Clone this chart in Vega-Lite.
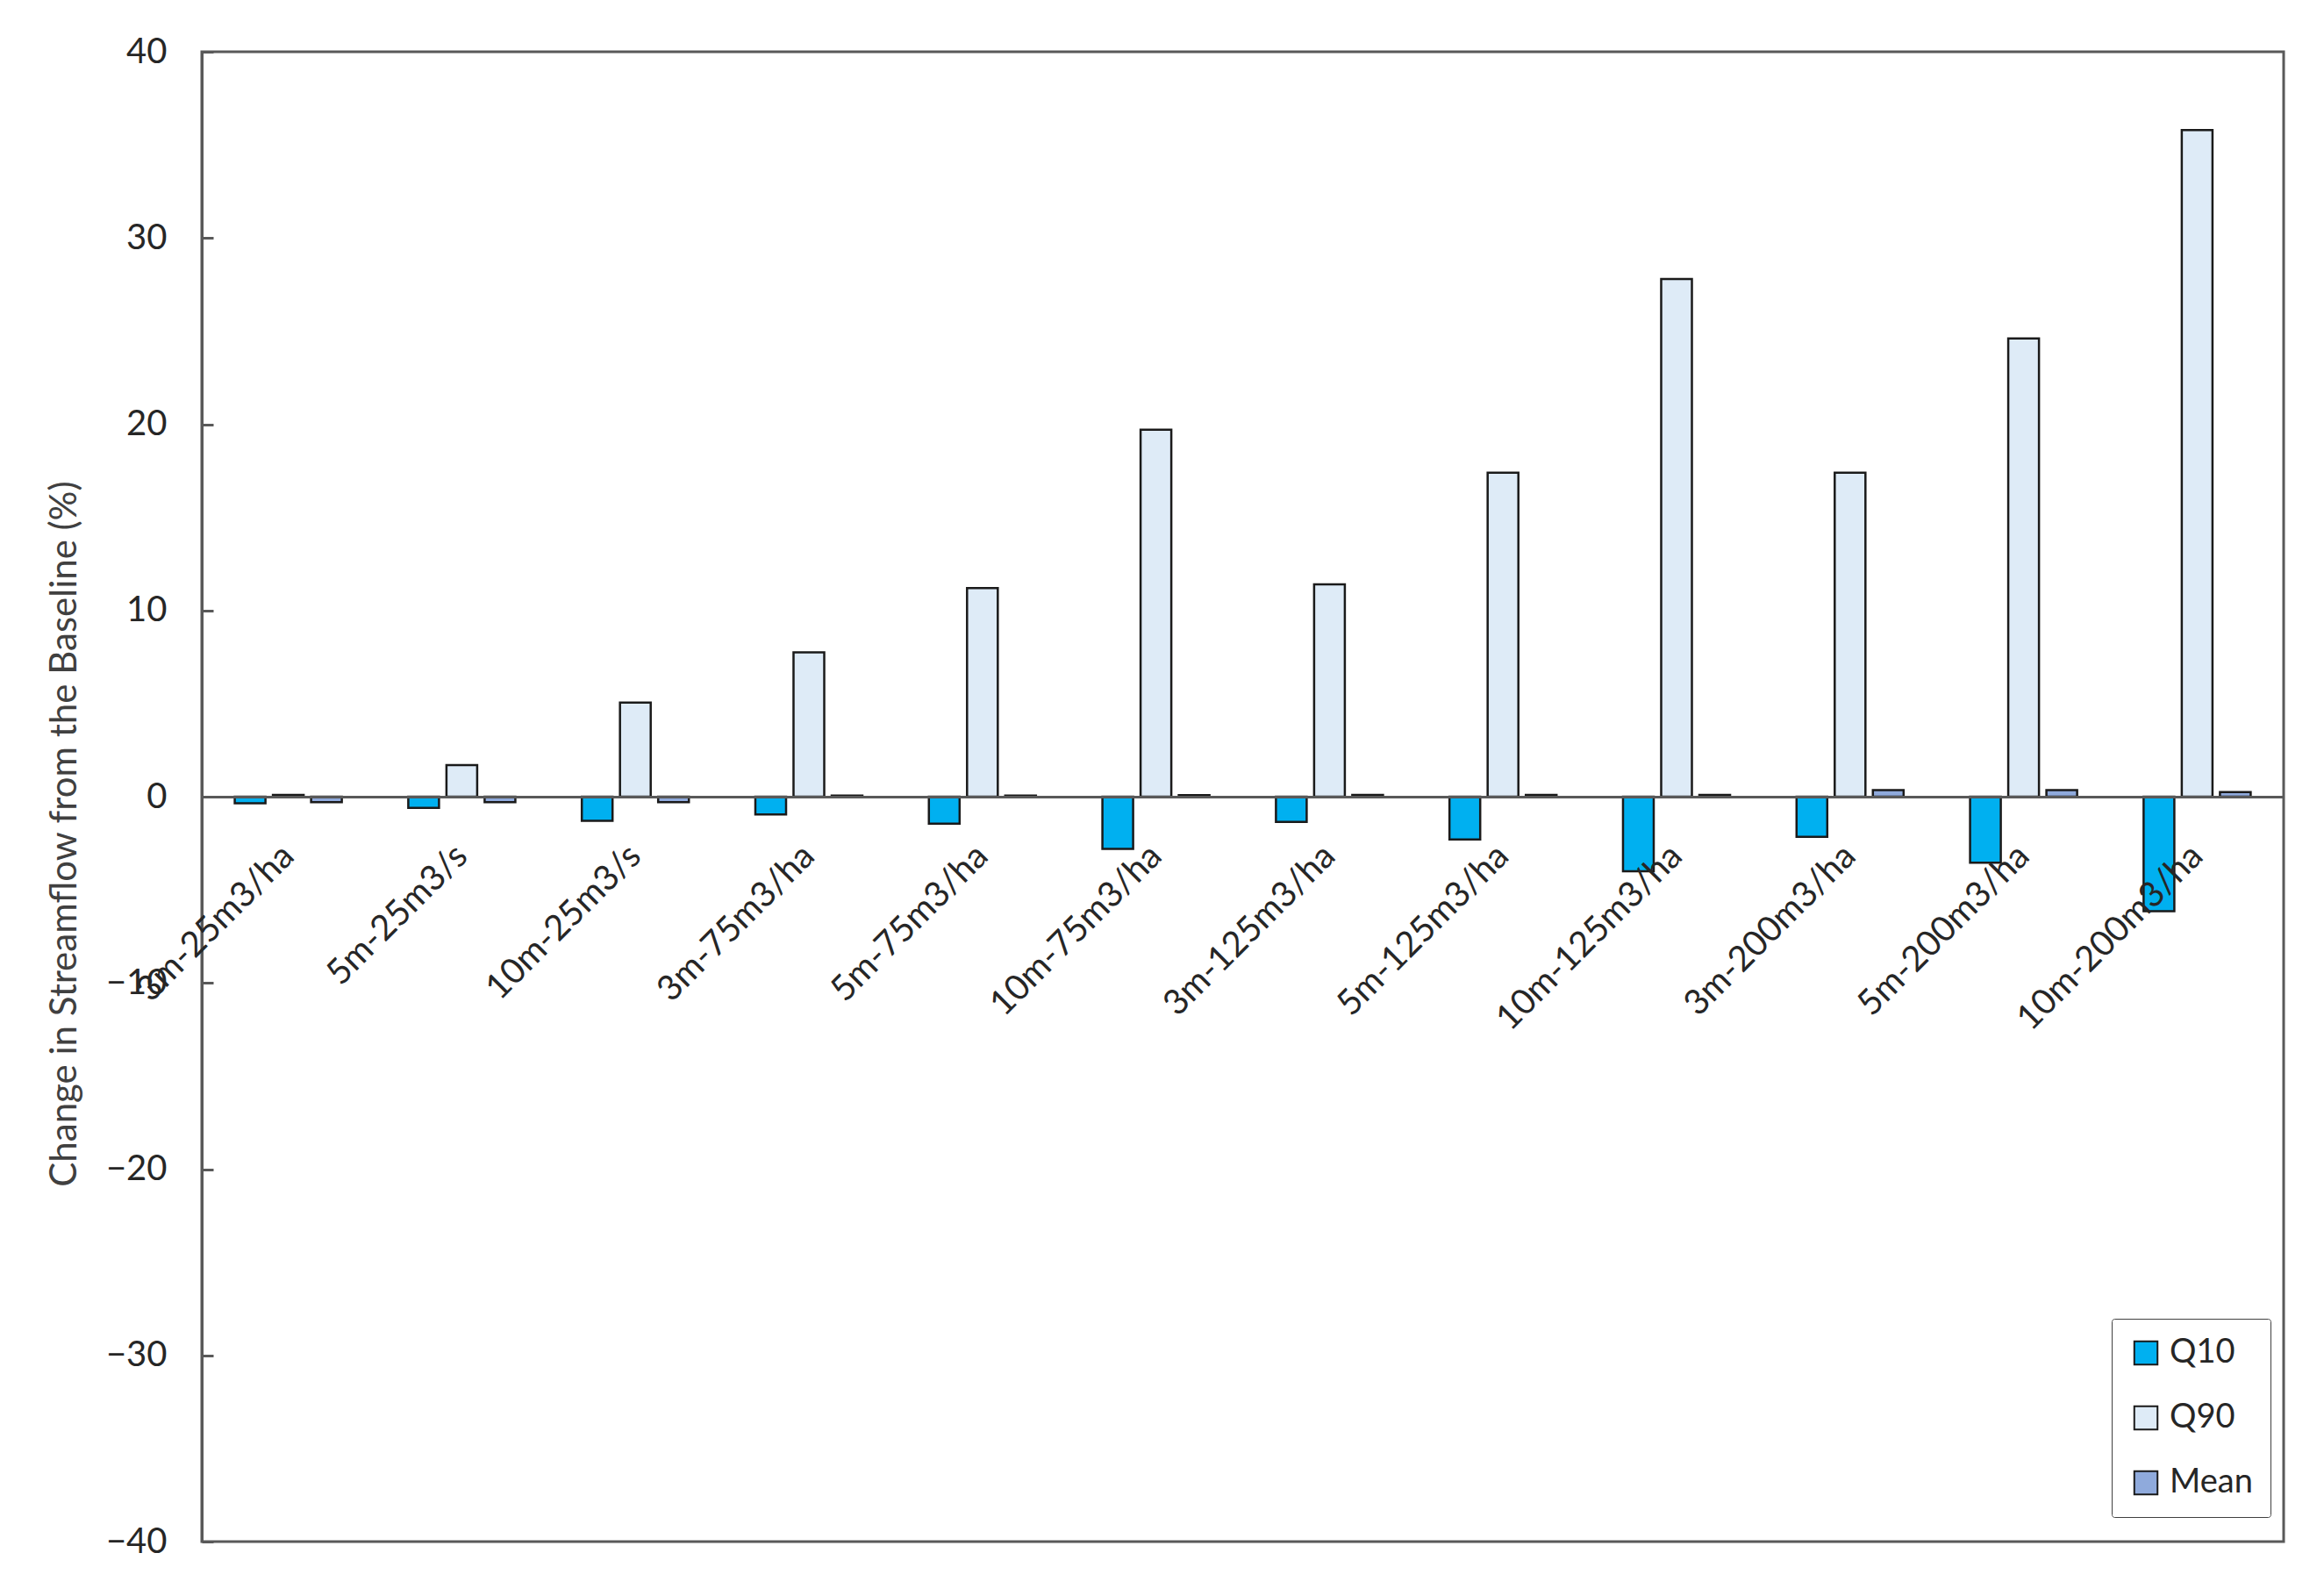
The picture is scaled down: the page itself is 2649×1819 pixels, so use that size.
{
  "$schema": "https://vega.github.io/schema/vega-lite/v6.json",
  "width": 2373,
  "height": 1698,
  "autosize": {"type": "none"},
  "padding": {"left": 230, "top": 59, "right": 46, "bottom": 62},
  "background": "white",
  "config": {
    "font": "Lato",
    "view": {"stroke": "#595959", "strokeWidth": 3},
    "axis": {"grid": false, "labelColor": "#262626", "titleColor": "#404040", "labelFont": "Lato", "titleFont": "Lato"}
  },
  "data": {
    "values": [
      {"cat": "3m-25m3/ha", "series": "Q10", "value": -0.35},
      {"cat": "3m-25m3/ha", "series": "Q90", "value": 0.1},
      {"cat": "3m-25m3/ha", "series": "Mean", "value": -0.3},
      {"cat": "5m-25m3/s", "series": "Q10", "value": -0.6},
      {"cat": "5m-25m3/s", "series": "Q90", "value": 1.7},
      {"cat": "5m-25m3/s", "series": "Mean", "value": -0.3},
      {"cat": "10m-25m3/s", "series": "Q10", "value": -1.3},
      {"cat": "10m-25m3/s", "series": "Q90", "value": 5.05},
      {"cat": "10m-25m3/s", "series": "Mean", "value": -0.3},
      {"cat": "3m-75m3/ha", "series": "Q10", "value": -0.95},
      {"cat": "3m-75m3/ha", "series": "Q90", "value": 7.75},
      {"cat": "3m-75m3/ha", "series": "Mean", "value": 0.06},
      {"cat": "5m-75m3/ha", "series": "Q10", "value": -1.45},
      {"cat": "5m-75m3/ha", "series": "Q90", "value": 11.2},
      {"cat": "5m-75m3/ha", "series": "Mean", "value": 0.06},
      {"cat": "10m-75m3/ha", "series": "Q10", "value": -2.8},
      {"cat": "10m-75m3/ha", "series": "Q90", "value": 19.7},
      {"cat": "10m-75m3/ha", "series": "Mean", "value": 0.08},
      {"cat": "3m-125m3/ha", "series": "Q10", "value": -1.35},
      {"cat": "3m-125m3/ha", "series": "Q90", "value": 11.4},
      {"cat": "3m-125m3/ha", "series": "Mean", "value": 0.1},
      {"cat": "5m-125m3/ha", "series": "Q10", "value": -2.3},
      {"cat": "5m-125m3/ha", "series": "Q90", "value": 17.4},
      {"cat": "5m-125m3/ha", "series": "Mean", "value": 0.1},
      {"cat": "10m-125m3/ha", "series": "Q10", "value": -4.0},
      {"cat": "10m-125m3/ha", "series": "Q90", "value": 27.8},
      {"cat": "10m-125m3/ha", "series": "Mean", "value": 0.1},
      {"cat": "3m-200m3/ha", "series": "Q10", "value": -2.15},
      {"cat": "3m-200m3/ha", "series": "Q90", "value": 17.4},
      {"cat": "3m-200m3/ha", "series": "Mean", "value": 0.35},
      {"cat": "5m-200m3/ha", "series": "Q10", "value": -3.55},
      {"cat": "5m-200m3/ha", "series": "Q90", "value": 24.6},
      {"cat": "5m-200m3/ha", "series": "Mean", "value": 0.35},
      {"cat": "10m-200m3/ha", "series": "Q10", "value": -6.15},
      {"cat": "10m-200m3/ha", "series": "Q90", "value": 35.8},
      {"cat": "10m-200m3/ha", "series": "Mean", "value": 0.25}
    ]
  },
  "mark": {"type": "bar", "stroke": "#1a1a1a", "strokeWidth": 2.5},
  "encoding": {
    "x": {
      "field": "cat",
      "type": "nominal",
      "sort": null,
      "scale": {"paddingInner": 0.383, "paddingOuter": 0.19},
      "axis": {
        "title": null,
        "orient": "bottom",
        "offset": -849,
        "domainColor": "#595959",
        "domainWidth": 3,
        "ticks": false,
        "labelAngle": -45,
        "labelFontSize": 40,
        "labelPadding": 47,
        "labelOffset": -14,
        "labelLimit": 0,
        "labelOverlap": false,
        "labelBound": false,
        "zindex": 1
      }
    },
    "xOffset": {
      "field": "series",
      "type": "nominal",
      "sort": ["Q10", "Q90", "Mean"],
      "scale": {"paddingInner": 0.195, "paddingOuter": 0}
    },
    "y": {
      "field": "value",
      "type": "quantitative",
      "scale": {"domain": [-40, 40], "nice": false},
      "axis": {
        "title": "Change in Streamflow from the Baseline (%)",
        "titleFontSize": 42,
        "titleFontWeight": "normal",
        "titlePadding": 25,
        "titleY": 891,
        "values": [-40, -30, -20, -10, 0, 10, 20, 30, 40],
        "labelFontSize": 40,
        "labelPadding": 53,
        "tickSize": -13,
        "tickWidth": 3,
        "tickColor": "#595959",
        "domainColor": "#595959",
        "domainWidth": 3
      }
    },
    "color": {
      "field": "series",
      "type": "nominal",
      "scale": {"domain": ["Q10", "Q90", "Mean"], "range": ["#00B0F0", "#DEEBF7", "#8FAADC"]},
      "legend": {
        "title": null,
        "orient": "none",
        "legendX": 2177,
        "legendY": 1444,
        "strokeColor": "#404040",
        "padding": 20,
        "cornerRadius": 3,
        "fillColor": "white",
        "symbolType": "square",
        "symbolSize": 700,
        "symbolStrokeColor": "#1a1a1a",
        "symbolStrokeWidth": 2,
        "labelFontSize": 38,
        "labelColor": "#262626",
        "labelOffset": 8,
        "rowPadding": 36
      }
    }
  }
}
